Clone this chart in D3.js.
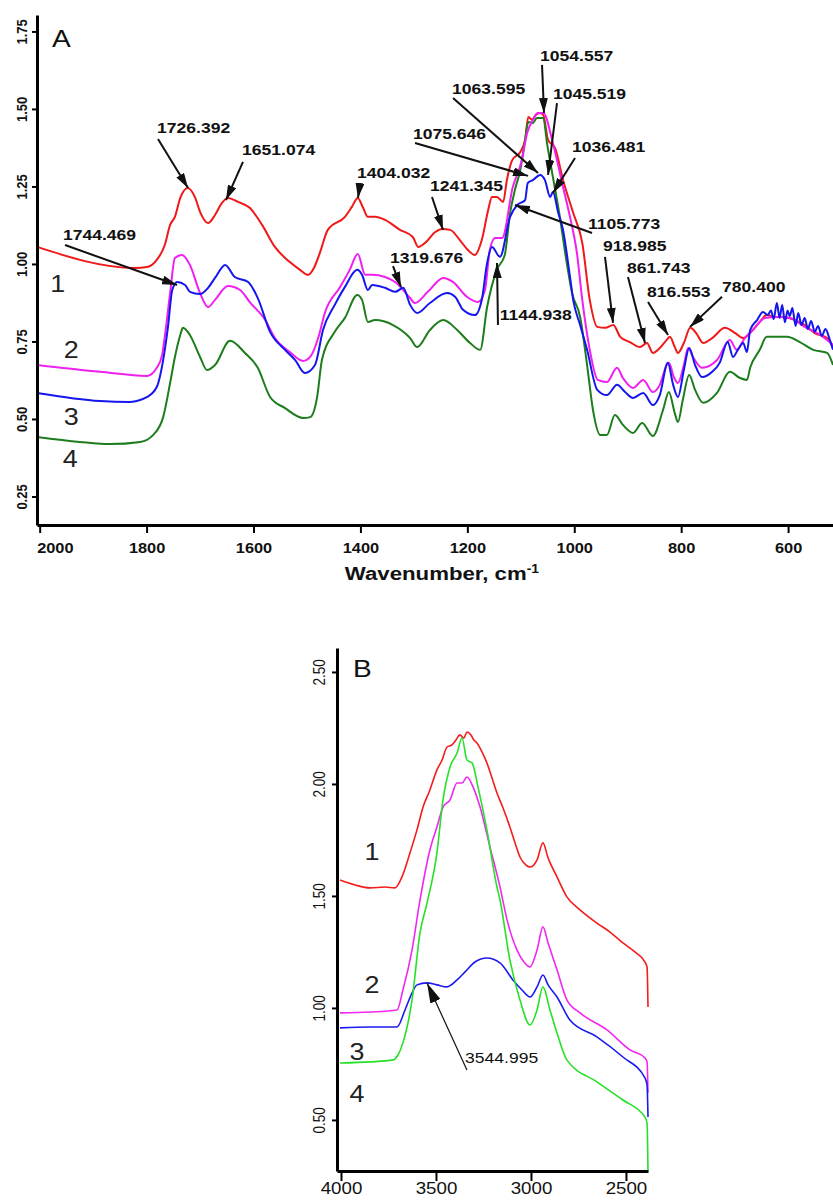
<!DOCTYPE html>
<html><head><meta charset="utf-8">
<script src="https://cdn.jsdelivr.net/npm/d3@7"></script>
<style>body{margin:0;background:#fff}svg{display:block}</style>
</head><body>
<svg id="c" width="833" height="1202"></svg>
<script>
// ---------- Panel A data: [wavenumber, absorbance] ----------
const redA = [[2005,1.055],[1822,0.987],[1799,0.990],[1781,1.013],[1766,1.061],[1756,1.126],[1747,1.152],[1737,1.213],[1723,1.245],[1709,1.213],[1700,1.168],[1685,1.132],[1672,1.158],[1659,1.197],[1648,1.213],[1629,1.200],[1607,1.181],[1584,1.126],[1560,1.055],[1532,1.006],[1513,0.981],[1498,0.965],[1487,0.987],[1476,1.035],[1461,1.110],[1429,1.152],[1416,1.184],[1405,1.213],[1395,1.181],[1386,1.152],[1373,1.152],[1354,1.142],[1326,1.110],[1302,1.087],[1292,1.055],[1279,1.068],[1260,1.103],[1247,1.113],[1232,1.110],[1214,1.077],[1199,1.045],[1186,1.029],[1173,1.077],[1161,1.174],[1154,1.216],[1145,1.216],[1133,1.200],[1126,1.271],[1116,1.335],[1101,1.361],[1092,1.400],[1086,1.474],[1079,1.465],[1072,1.481],[1064,1.487],[1058,1.481],[1049,1.400],[1036,1.374],[1021,1.271],[1002,1.165],[985,1.068],[971,0.884],[957,0.797],[942,0.794],[927,0.803],[914,0.765],[896,0.748],[877,0.732],[864,0.745],[853,0.713],[840,0.729],[827,0.755],[821,0.765],[812,0.732],[806,0.713],[795,0.745],[783,0.794],[772,0.777],[759,0.745],[742,0.761],[718,0.794],[699,0.777],[684,0.761],[666,0.787],[653,0.813],[640,0.835],[625,0.829],[610,0.829],[587,0.819],[569,0.803],[550,0.777],[527,0.761],[516,0.732]];
const magentaA = [[2005,0.674],[1887,0.652],[1799,0.639],[1781,0.665],[1771,0.706],[1766,0.765],[1756,0.906],[1747,1.019],[1734,1.029],[1719,0.997],[1700,0.906],[1685,0.861],[1672,0.884],[1648,0.929],[1625,0.916],[1607,0.877],[1578,0.819],[1560,0.761],[1532,0.716],[1507,0.687],[1494,0.700],[1479,0.761],[1466,0.845],[1438,0.926],[1420,0.981],[1405,1.032],[1391,0.965],[1378,0.965],[1354,0.958],[1335,0.942],[1307,0.890],[1298,0.874],[1274,0.910],[1245,0.955],[1227,0.942],[1201,0.894],[1180,0.877],[1167,0.916],[1158,1.045],[1148,1.084],[1135,1.084],[1115,1.248],[1098,1.335],[1088,1.423],[1077,1.465],[1068,1.487],[1058,1.487],[1040,1.390],[1021,1.248],[1008,1.152],[995,1.035],[985,0.884],[971,0.723],[956,0.626],[939,0.619],[920,0.665],[909,0.632],[890,0.600],[871,0.626],[853,0.587],[840,0.610],[827,0.674],[823,0.681],[813,0.632],[806,0.616],[795,0.674],[787,0.729],[778,0.700],[761,0.665],[733,0.690],[709,0.755],[696,0.723],[681,0.761],[666,0.787],[643,0.826],[621,0.829],[596,0.826],[569,0.797],[540,0.771],[516,0.739]];
const blueA = [[2005,0.584],[1887,0.558],[1831,0.555],[1799,0.571],[1781,0.603],[1769,0.690],[1760,0.797],[1752,0.916],[1743,0.942],[1728,0.932],[1719,0.910],[1700,0.903],[1685,0.923],[1672,0.955],[1653,0.997],[1635,0.958],[1610,0.942],[1592,0.890],[1569,0.781],[1541,0.723],[1522,0.690],[1504,0.648],[1485,0.674],[1470,0.787],[1448,0.868],[1429,0.926],[1406,0.981],[1397,0.965],[1386,0.916],[1378,0.932],[1354,0.923],[1335,0.910],[1320,0.923],[1307,0.868],[1294,0.842],[1270,0.874],[1238,0.906],[1223,0.894],[1208,0.852],[1186,0.835],[1173,0.884],[1163,1.003],[1154,1.055],[1139,1.023],[1120,1.152],[1107,1.190],[1092,1.206],[1087,1.261],[1077,1.271],[1064,1.287],[1055,1.271],[1045,1.216],[1040,1.232],[1030,1.165],[1021,1.110],[1008,0.958],[1002,0.884],[989,0.803],[976,0.723],[957,0.594],[939,0.577],[920,0.610],[905,0.587],[890,0.568],[871,0.584],[853,0.545],[840,0.577],[825,0.681],[815,0.610],[806,0.571],[795,0.658],[785,0.729],[774,0.674],[761,0.635],[742,0.652],[728,0.681],[713,0.748],[703,0.700],[694,0.723],[684,0.745],[677,0.716],[671,0.787],[658,0.819],[647,0.845],[638,0.835],[632,0.850],[627,0.822],[621,0.874],[616,0.826],[611,0.868],[606,0.812],[601,0.850],[597,0.832],[592,0.858],[586,0.800],[581,0.842],[575,0.803],[569,0.826],[563,0.790],[557,0.816],[550,0.781],[544,0.800],[537,0.768],[530,0.790],[523,0.761],[516,0.723]];
const greenA = [[2005,0.442],[1925,0.426],[1868,0.419],[1812,0.426],[1788,0.448],[1769,0.506],[1756,0.616],[1747,0.700],[1737,0.771],[1732,0.794],[1719,0.771],[1700,0.700],[1687,0.658],[1672,0.674],[1644,0.752],[1616,0.713],[1592,0.665],[1569,0.571],[1541,0.535],[1507,0.503],[1494,0.506],[1481,0.571],[1472,0.690],[1448,0.781],[1429,0.826],[1406,0.900],[1397,0.884],[1386,0.813],[1373,0.819],[1339,0.803],[1307,0.761],[1294,0.732],[1270,0.787],[1245,0.819],[1219,0.787],[1195,0.745],[1176,0.723],[1163,0.861],[1145,0.981],[1130,1.029],[1120,1.165],[1111,1.239],[1101,1.303],[1092,1.400],[1086,1.458],[1077,1.455],[1070,1.471],[1058,1.471],[1051,1.390],[1040,1.281],[1027,1.152],[1014,1.003],[1004,0.906],[989,0.829],[976,0.674],[965,0.529],[951,0.448],[939,0.448],[924,0.513],[909,0.481],[890,0.455],[873,0.487],[853,0.445],[834,0.529],[823,0.587],[812,0.519],[806,0.490],[797,0.561],[785,0.642],[774,0.594],[759,0.552],[733,0.584],[709,0.652],[690,0.632],[677,0.626],[671,0.665],[653,0.723],[640,0.765],[602,0.765],[578,0.748],[553,0.723],[527,0.713],[516,0.674]];

// ---------- Panel B data ----------
const redB = [[4005,1.571],[3926,1.549],[3847,1.536],[3768,1.540],[3716,1.536],[3679,1.585],[3637,1.692],[3600,1.795],[3568,1.897],[3532,1.973],[3495,2.063],[3468,2.107],[3442,2.165],[3416,2.174],[3395,2.196],[3374,2.219],[3353,2.205],[3337,2.232],[3316,2.219],[3300,2.196],[3284,2.183],[3258,2.143],[3232,2.094],[3205,2.027],[3179,1.960],[3147,1.893],[3111,1.808],[3084,1.737],[3058,1.674],[3026,1.638],[3005,1.629],[2968,1.661],[2937,1.737],[2910,1.670],[2863,1.585],[2811,1.496],[2742,1.438],[2653,1.379],[2584,1.339],[2516,1.290],[2453,1.250],[2400,1.205],[2389,1.183],[2384,1.004]];
const magentaB = [[4005,0.978],[3847,0.982],[3705,0.991],[3674,1.080],[3626,1.259],[3584,1.482],[3532,1.705],[3495,1.808],[3463,1.897],[3426,1.929],[3389,2.004],[3363,2.004],[3337,2.031],[3305,1.987],[3268,1.897],[3216,1.719],[3163,1.540],[3126,1.393],[3074,1.259],[3037,1.205],[3005,1.183],[2968,1.259],[2937,1.362],[2910,1.290],[2863,1.170],[2811,1.036],[2742,0.978],[2600,0.902],[2479,0.813],[2400,0.777],[2389,0.759],[2384,0.621]];
const blueB = [[4005,0.911],[3847,0.915],[3705,0.915],[3663,0.991],[3626,1.067],[3600,1.103],[3547,1.112],[3495,1.103],[3442,1.094],[3389,1.125],[3347,1.161],[3295,1.205],[3232,1.223],[3163,1.201],[3095,1.125],[3047,1.080],[3005,1.049],[2968,1.094],[2937,1.147],[2910,1.103],[2863,1.049],[2795,0.946],[2653,0.871],[2516,0.781],[2400,0.688],[2389,0.656],[2384,0.513]];
const greenB = [[4005,0.754],[3847,0.759],[3726,0.768],[3700,0.790],[3674,0.844],[3626,1.036],[3584,1.335],[3547,1.469],[3495,1.692],[3463,1.929],[3426,2.076],[3389,2.138],[3363,2.205],[3337,2.107],[3310,2.094],[3279,1.987],[3232,1.795],[3179,1.540],[3163,1.482],[3111,1.214],[3058,1.036],[3005,0.924],[2968,0.991],[2937,1.094],[2900,0.991],[2863,0.888],[2811,0.768],[2653,0.670],[2516,0.589],[2400,0.513],[2389,0.486],[2384,0.272]];

// ---------- ticks ----------
const ticksXA = [2000,1800,1600,1400,1200,1000,800,600];
const ticksYA = [0.25,0.50,0.75,1.00,1.25,1.50,1.75];
const ticksXB = [4000,3500,3000,2500];
const ticksYB = [0.50,1.00,1.50,2.00,2.50];

// ---------- annotations: label, text pos (wn,v), tail (wn,v), tip (wn,v) ----------
const annotA = [
 ["1726.392",1780.5,1.423,1778.7,1.403,1722.5,1.245],
 ["1651.074",1621.5,1.352,1619.7,1.329,1651.5,1.206],
 ["1404.032",1406.4,1.277,1400.8,1.261,1404.5,1.213],
 ["1744.469",1956.4,1.077,1952.6,1.061,1743.1,0.932],
 ["1319.676",1344.7,1.003,1339.1,0.993,1324.1,0.926],
 ["1241.345",1269.9,1.235,1266.1,1.216,1245.5,1.110],
 ["1063.595",1228.7,1.548,1226.8,1.535,1067.8,1.293],
 ["1054.557",1064.1,1.655,1060.3,1.642,1056.6,1.487],
 ["1045.519",1039.8,1.532,1032.3,1.519,1049.1,1.287],
 ["1075.646",1301.7,1.403,1297.9,1.390,1086.5,1.284],
 ["1036.481",1004.2,1.361,998.6,1.342,1039.8,1.229],
 ["1105.773",974.3,1.113,966.8,1.100,1110.9,1.190],
 ["1144.938",1139.5,0.819,1142.7,0.803,1144.5,1.003],
 ["918.985",946.2,1.042,942.5,1.023,927.5,0.810],
 ["861.743",901.3,0.971,899.5,0.958,867.7,0.745],
 ["816.553",863.9,0.893,862.0,0.877,824.6,0.771],
 ["780.400",723.6,0.910,723.6,0.894,783.5,0.797]
];
const annotB = [["3544.995",3347,0.754,3337,0.723,3547,1.111]];

// curve number labels: label, wn, v
const curveLabelsA = [["1",1966,0.910],["2",1941,0.697],["3",1941,0.481],["4",1943,0.345]];
const curveLabelsB = [["1",3837,1.661],["2",3837,1.067],["3",3916,0.768],["4",3916,0.580]];

const S = 1.17; // horizontal text stretch of the reference
const svg = d3.select("#c");
svg.append("rect").attr("width",833).attr("height",1202).attr("fill","#fff");
const FONT = "'Liberation Sans', Arial, Helvetica, sans-serif";

const defs = svg.append("defs");
function marker(id, len, wid){
  defs.append("marker").attr("id",id).attr("markerUnits","userSpaceOnUse")
    .attr("markerWidth",len).attr("markerHeight",wid).attr("refX",len).attr("refY",wid/2)
    .attr("orient","auto")
    .append("path").attr("d",`M0,0L${len},${wid/2}L0,${wid}Z`).attr("fill","#111");
}
marker("ahA",15,9);
marker("ahB",20,11);

function stext(g, x, y, str, size, weight, anchor){
  return g.append("text").attr("transform",`translate(${x},${y}) scale(${S},1)`)
    .attr("text-anchor",anchor||"start").attr("font-family",FONT)
    .attr("font-size",size).attr("font-weight",weight||"normal").attr("fill","#111").text(str);
}

function panel(cfg){
  const {x,y,series,ticksX,ticksY,tickFontX,tickFontY,tickWeight,xTickLen,yLabelOff,xLabelOff,lw} = cfg;
  const g = svg.append("g");
  const line = d3.line().x(d=>x(d[0])).y(d=>y(d[1])).curve(d3.curveMonotoneX);
  series.forEach(s=>{
    g.append("path").datum(s.data).attr("d",line)
      .attr("fill","none").attr("stroke",s.color).attr("stroke-width",lw)
      .attr("stroke-linejoin","round");
  });
  const gx = g.append("g").attr("transform",`translate(0,${y.range()[0]})`)
    .call(d3.axisBottom(x).tickValues(ticksX).tickSize(xTickLen).tickSizeOuter(0).tickFormat(d3.format("d")));
  gx.select(".domain").attr("stroke","#000").attr("stroke-width",3);
  gx.selectAll(".tick line").attr("stroke","#000").attr("stroke-width",2);
  gx.selectAll(".tick text").attr("y",null).attr("dy",null)
    .attr("transform",`translate(0,${xLabelOff}) scale(${S},1)`)
    .attr("font-family",FONT).attr("font-size",tickFontX).attr("font-weight",tickWeight).attr("fill","#111");
  const gy = g.append("g").attr("transform",`translate(${x.range()[0]},0)`)
    .call(d3.axisLeft(y).tickValues(ticksY).tickSize(5).tickSizeOuter(0).tickFormat(d3.format(".2f")));
  gy.select(".domain").attr("stroke","#000").attr("stroke-width",3);
  gy.selectAll(".tick line").attr("stroke","#000").attr("stroke-width",2);
  gy.selectAll(".tick text").attr("x",null).attr("dy",null).attr("text-anchor","middle")
    .attr("transform",`translate(${-yLabelOff},0) scale(${S},1) rotate(-90)`)
    .attr("font-family",FONT).attr("font-size",tickFontY).attr("font-weight",tickWeight).attr("fill","#111");
  return {g,gx,gy};
}

const xA = d3.scaleLinear().domain([2005,516]).range([37,833]);
const yA = d3.scaleLinear().domain([0.158,1.803]).range([525,15]);
const xB = d3.scaleLinear().domain([4021,2384]).range([337,648]);
const yB = d3.scaleLinear().domain([0.272,2.607]).range([1171,648]);

const pA = panel({x:xA,y:yA,lw:2,
  series:[{data:redA,color:"#f01818"},{data:greenA,color:"#1d7d1d"},{data:magentaA,color:"#f020f0"},{data:blueA,color:"#1515f0"}],
  ticksX:ticksXA,ticksY:ticksYA,tickFontX:14,tickFontY:13,tickWeight:"bold",xTickLen:8,yLabelOff:10,xLabelOff:28});
pA.gx.selectAll(".tick text").filter(d=>d===2000).attr("text-anchor","start")
  .attr("transform",`translate(-3,28) scale(${S},1)`);

const pB = panel({x:xB,y:yB,lw:1.6,
  series:[{data:redB,color:"#f41c1c"},{data:magentaB,color:"#f028f0"},{data:blueB,color:"#1a1af0"},{data:greenB,color:"#28e028"}],
  ticksX:ticksXB,ticksY:ticksYB,tickFontX:16,tickFontY:13.5,tickWeight:"normal",xTickLen:10,yLabelOff:12,xLabelOff:23});

const tA = svg.append("text").attr("transform",`translate(442,580) scale(${S},1)`)
  .attr("text-anchor","middle").attr("font-family",FONT).attr("font-size",19).attr("font-weight","bold").attr("fill","#111");
tA.append("tspan").text("Wavenumber, cm");
tA.append("tspan").attr("dy",-7).attr("font-size",12).text("-1");

stext(svg, xA(1977), yA(1.70), "A", 24, "normal");
stext(svg, xB(3937), yB(2.478), "B", 24, "normal");

const lg = svg.append("g");
curveLabelsA.forEach(d=>stext(lg, xA(d[1]), yA(d[2]), d[0], 23, "normal", "middle").attr("fill","#222"));
curveLabelsB.forEach(d=>stext(lg, xB(d[1]), yB(d[2]), d[0], 23, "normal", "middle").attr("fill","#222"));

function annotate(list, x, y, size, weight, lw, mk){
  const g = svg.append("g");
  list.forEach(a=>{
    g.append("line").attr("x1",x(a[3])).attr("y1",y(a[4])).attr("x2",x(a[5])).attr("y2",y(a[6]))
      .attr("stroke","#111").attr("stroke-width",lw).attr("marker-end",`url(#${mk})`);
    stext(g, x(a[1]), y(a[2]), a[0], size, weight);
  });
}
annotate(annotA, xA, yA, 15, "bold", 2, "ahA");
annotate(annotB, xB, yB, 15, "normal", 1.2, "ahB");
</script>
</body></html>
